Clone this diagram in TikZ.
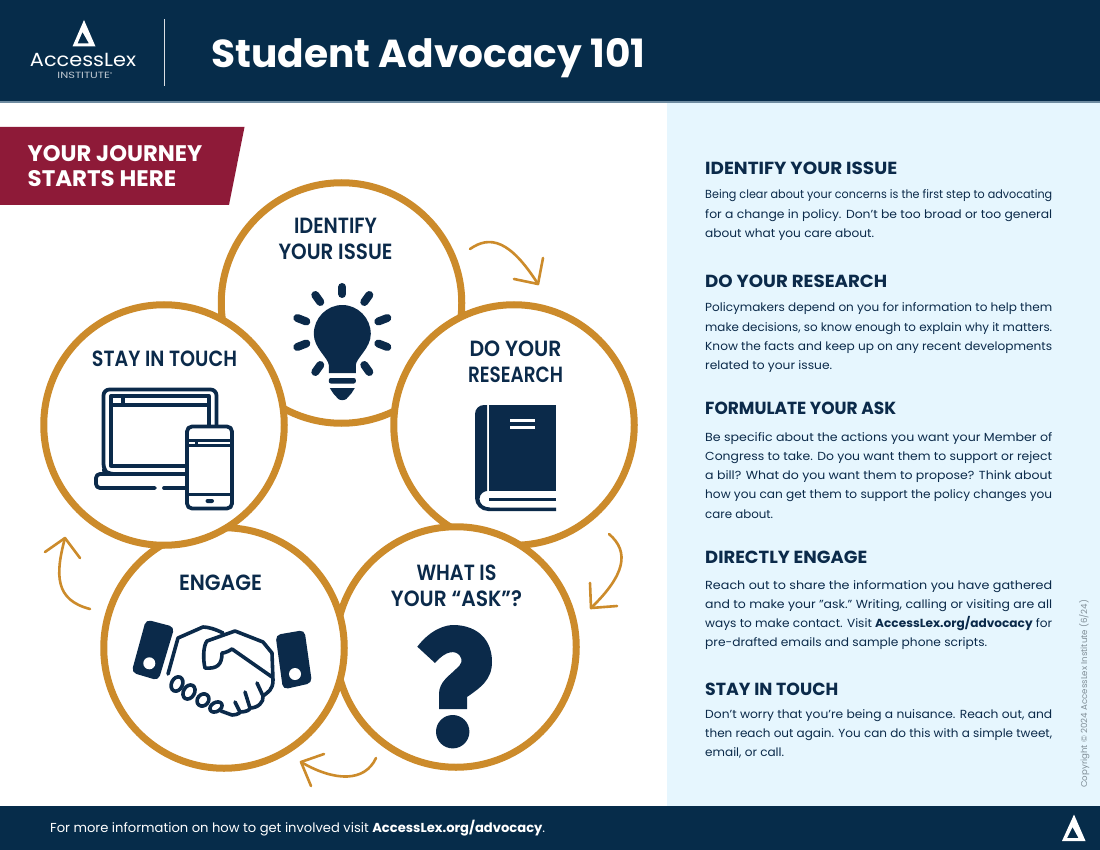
\documentclass[tikz,border=0pt]{standalone}
\usepackage{fontspec}
\usepackage{graphicx}
\setmainfont{Poppins}
\newfontfamily\labelfont[FakeStretch=0.86]{Poppins SemiBold}
\newfontfamily\logofont{Poppins}
\newcommand{\fitw}[2]{\resizebox{#1pt}{\height}{#2}}
\newcommand{\stacked}[1]{\begin{tabular}[t]{@{}l@{}}#1\end{tabular}}
\definecolor{navy}{HTML}{062C4A}
\definecolor{ink}{HTML}{0B2A4A}
\definecolor{gold}{HTML}{CC8B2B}
\definecolor{wine}{HTML}{8E1A38}
\definecolor{pale}{HTML}{E6F6FE}
\definecolor{rulecol}{HTML}{6E8BA0}
\definecolor{copy}{HTML}{808E97}
\tikzset{
 ring/.style={circle,draw=gold,fill=white,line width=7pt,minimum size=240.5pt,inner sep=0pt},
 circlelabel/.style={font=\labelfont\fontsize{22}{26}\selectfont,text=ink,align=center,inner sep=0pt},
 heading/.style={anchor=base west,inner sep=0pt,font=\fontsize{17.5}{20}\selectfont\bfseries,text=ink},
 para/.style={anchor=base west,inner sep=0pt,font=\fontsize{11.7}{19.25}\selectfont,text=ink},
 hand/.style={draw=gold,line width=2.6pt,line cap=round,line join=round},
 iconline/.style={draw=ink,line width=3.8pt,line join=round,line cap=round},
 shakeline/.style={draw=ink,line width=3.6pt,line join=round,line cap=round},
 ray/.style={draw=ink,line width=8pt,line cap=round},
}
\begin{document}
\begin{tikzpicture}[x=1pt,y=-1pt]
\useasboundingbox (0,0) rectangle (1100,850);
\fill[white] (0,0) rectangle (1100,850);
% panels
\fill[pale] (667,102) rectangle (1100,806);
\fill[navy] (0,0) rectangle (1100,102);
\fill[rulecol] (0,101.5) rectangle (1100,103);
\fill[navy] (0,806) rectangle (1100,850);
% header logo
\fill[white,even odd rule] (84,20) -- (95.5,46.5) -- (72.5,46.5) -- cycle (82.5,32) -- (77.5,43.5) -- (89,43.5) -- cycle;
\node[inner sep=0pt,text=white,font=\logofont\fontsize{19}{20}\selectfont] (logo) at (83,59.5) {\fitw{106}{AccessLex}};
\node[inner sep=0pt,text=white!75!navy,font=\logofont\fontsize{9}{10}\selectfont] (inst) at (85,75) {\fitw{55}{INSTITUTE\raisebox{2.5pt}{\fontsize{4}{4}\selectfont ®}}};
\draw[white!85!navy,line width=1pt] (164.5,19) -- (164.5,86);
\node[anchor=base west,inner sep=0pt,text=white,font=\fontsize{39}{44}\selectfont\bfseries] (title) at (211,68) {\fitw{434}{Student Advocacy 101}};
% banner
\fill[wine] (0,127) -- (244.5,127) -- (229,205) -- (0,205) -- cycle;
\node[anchor=base west,inner sep=0pt,text=white,font=\fontsize{22.5}{25}\selectfont\bfseries] (banner) at (27.5,161.5) {\stacked{\fitw{174.5}{YOUR JOURNEY}\\\fitw{148.5}{STARTS HERE}}};
% rings
\node[ring] (identify) at (341.5,303) {};
\node[ring] (research) at (514,425) {};
\node[ring] (ask) at (456,647) {};
\node[ring] (engage) at (224,648) {};
\node[ring] (stay) at (164,425) {};
% labels
\node[circlelabel] (l1) at (335.5,239) {\fitw{83}{IDENTIFY}\\\fitw{114}{YOUR ISSUE}};
\node[circlelabel] (l2) at (515.5,362) {\fitw{92}{DO YOUR}\\\fitw{95}{RESEARCH}};
\node[circlelabel] (l3) at (456.5,586) {\fitw{80}{WHAT IS}\\\fitw{131}{YOUR “ASK”?}};
\node[circlelabel] (l4) at (220.5,583) {\fitw{83}{ENGAGE}};
\node[circlelabel] (l5) at (164.5,359) {\fitw{145}{STAY IN TOUCH}};
% arrows
\coordinate (a1s) at (470,249); \coordinate (a1e) at (538,284);
\draw[hand] (a1s) .. controls (490,235) and (510,240) .. (a1e);
\draw[hand] (543,258) -- (a1e) -- (514,279);
\coordinate (a2s) at (609,534); \coordinate (a2e) at (591,608);
\draw[hand] (a2s) .. controls (630,552) and (625,575) .. (a2e);
\draw[hand] (590,583) -- (a2e) -- (617,606);
\coordinate (a3s) at (376,758); \coordinate (a3e) at (301,762);
\draw[hand] (a3s) .. controls (365,782) and (335,782) .. (a3e);
\draw[hand] (324,754) -- (a3e) -- (311,786);
\coordinate (a4s) at (90,609); \coordinate (a4e) at (65,538);
\draw[hand] (a4s) .. controls (55,600) and (55,575) .. (a4e);
\draw[hand] (45,552) -- (a4e) -- (80,558);
% bulb
\begin{scope}[shift={(342.3,340)}]
\fill[ink] (-13.5,33) -- (13.5,33) -- (13.5,25) .. controls (14,18) and (28.5,8) .. (28.5,-6) .. controls (28.5,-22) and (15.5,-35) .. (0,-35) .. controls (-15.5,-35) and (-28.5,-22) .. (-28.5,-6) .. controls (-28.5,8) and (-14,18) .. (-13.5,25) -- cycle;
\draw[ray] (0,-53) -- (0,-46);
\draw[ray] (-27,-45) -- (-22,-38);
\draw[ray] (27,-45) -- (22,-38);
\draw[ray] (-45,-22) -- (-36,-18.5);
\draw[ray] (45,-22) -- (36,-18.5);
\draw[ray] (-45,7) -- (-36,3.5);
\draw[ray] (45,7) -- (36,3.5);
\draw[ray] (-27,32) -- (-22,25);
\draw[ray] (27,32) -- (22,25);
\fill[ink,rounded corners=2pt] (-13.5,38) rectangle (13.5,43.5);
\fill[ink] (-12.5,48) -- (12.5,48) -- (9,53.5) -- (4,59) .. controls (2,60.5) and (-2,60.5) .. (-4,59) -- (-9,53.5) -- cycle;
\end{scope}
% book
\fill[ink] (489,405) rectangle (556,490.5);
\fill[ink] (487,405) -- (484,405) .. controls (479,405) and (475,409) .. (475,414) -- (475,498) .. controls (475,505) and (481,511) .. (488,511) -- (556,511) -- (556,507.5) -- (490,507.5) .. controls (484,507.5) and (479.5,504) .. (479.5,499) .. controls (479.5,494) and (484,491) .. (487,491) -- cycle;
\fill[ink] (489,497.5) rectangle (556,500.5);
\fill[white] (510,419) rectangle (535,422);
\fill[white] (510,426) rectangle (535,429);
% laptop + phone
\draw[iconline,rounded corners=6pt] (185,474) -- (108,474) -- (103.5,470) -- (103.5,389.5) -- (216.5,389.5) -- (216.5,425);
\draw[iconline,line width=3.3pt] (111,396) rectangle (209,466) (111,405) -- (209,405);
\draw[iconline,line width=3.3pt] (123,396) -- (123,405);
\draw[iconline,rounded corners=4pt] (185,474) -- (96,474) -- (96,488) -- (155,488);
\draw[iconline] (164,488) -- (185,488);
\draw[iconline,rounded corners=5pt,fill=white] (187,426.5) rectangle (232,508.5);
\draw[iconline,line cap=butt,line width=3pt] (187,440) -- (232,440) (187,445.5) -- (232,445.5) (187,494) -- (232,494);
\draw[iconline,line cap=butt,line width=3pt] (196,440) -- (196,445.5);
\fill[ink,rounded corners=2pt] (205.5,499) rectangle (214,503);
% handshake
\fill[ink,rounded corners=5pt] (146,619.5) -- (174.5,627) -- (158.5,680.5) -- (131.5,672.5) -- cycle;
\fill[white] (149.3,663.3) circle (6);
\fill[ink,rounded corners=5pt] (275.5,635) -- (304.5,630) -- (312,683) -- (283,689.5) -- cycle;
\fill[white] (295,674) circle (6);
\draw[shakeline] (223,633) .. controls (215,629) and (208,627) .. (203,627) -- (178,638) -- (168,674);
\draw[shakeline,rotate around={-25:(177,684)}] (177,684) ellipse (5.5 and 7.5);
\draw[shakeline,rotate around={-30:(189,692)}] (189,692) ellipse (5.5 and 7.5);
\draw[shakeline,rotate around={-40:(203,700)}] (203,700) ellipse (5.5 and 6.5);
\draw[shakeline,rotate around={-60:(216,707)}] (216,707) ellipse (4.5 and 6.5);
\draw[shakeline] (221,711) -- (232,715) .. controls (238,715) and (241,712) .. (240,712) -- (235,702);
\draw[shakeline] (240,712) .. controls (246,712) and (250,710) .. (250,708) -- (245,692);
\draw[shakeline] (250,708) .. controls (258,708) and (264,702) .. (263,696) -- (257,683);
\draw[shakeline] (263,696) .. controls (268,692) and (273,690) .. (273,680) -- (272,653) -- (263,642) -- (235,631) -- (207,641) .. controls (203,646) and (203,660) .. (205,668) .. controls (217,669) and (222,665) .. (222,653) .. controls (225,653) and (229,651) .. (232,649) -- (272,677);
% question mark
\fill[ink] (417.3,646.7) .. controls (430,630) and (445,624.5) .. (455,625) .. controls (478,626) and (492,640) .. (492,662) .. controls (492,680) and (480,688) .. (467,697) -- (467,709) -- (439,709) -- (439,694) .. controls (439,682) and (449,676) .. (456,669) .. controls (462,664) and (463,660) .. (460,656) .. controls (456,650) and (446,650) .. (435,663) -- cycle;
\fill[ink] (452.7,731.7) circle (16.7);
% text panel
\node[heading] (h1) at (705,175) {\fitw{192}{IDENTIFY YOUR ISSUE}};
\node[para] (p1) at (705,199) {\stacked{\fitw{347}{Being clear about your concerns is the first step to advocating}\\\fitw{347}{for a change in policy. Don’t be too broad or too general}\\\fitw{169}{about what you care about.}}};
\node[heading] (h2) at (705,287.7) {\fitw{182}{DO YOUR RESEARCH}};
\node[para] (p2) at (705,312) {\stacked{\fitw{347}{Policymakers depend on you for information to help them}\\\fitw{347}{make decisions, so know enough to explain why it matters.}\\\fitw{347}{Know the facts and keep up on any recent developments}\\\fitw{127}{related to your issue.}}};
\node[heading] (h3) at (705,414.5) {\fitw{191}{FORMULATE YOUR ASK}};
\node[para] (p3) at (705,441) {\stacked{\fitw{347}{Be specific about the actions you want your Member of}\\\fitw{347}{Congress to take. Do you want them to support or reject}\\\fitw{347}{a bill? What do you want them to propose? Think about}\\\fitw{347}{how you can get them to support the policy changes you}\\\fitw{68}{care about.}}};
\node[heading] (h4) at (705,563.5) {\fitw{162}{DIRECTLY ENGAGE}};
\node[para] (p4) at (705,589) {\stacked{\fitw{347}{Reach out to share the information you have gathered}\\\fitw{347}{and to make your "ask." Writing, calling or visiting are all}\\\fitw{347}{ways to make contact. Visit \textbf{AccessLex.org/advocacy} for}\\\fitw{282}{pre-drafted emails and sample phone scripts.}}};
\node[heading] (h5) at (705,695.5) {\fitw{133}{STAY IN TOUCH}};
\node[para] (p5) at (705,718) {\stacked{\fitw{347}{Don’t worry that you’re being a nuisance. Reach out, and}\\\fitw{347}{then reach out again. You can do this with a simple tweet,}\\\fitw{79}{email, or call.}}};
\node[anchor=base west,rotate=90,inner sep=0pt,text=copy,font=\fontsize{8.5}{10}\selectfont] (copyr) at (1087,788) {\fitw{188}{Copyright © 2024 AccessLex Institute (6/24)}};
% footer
\node[anchor=base west,inner sep=0pt,text=white,font=\fontsize{13}{15}\selectfont] (foot) at (50,832) {\fitw{495}{For more information on how to get involved visit \textbf{AccessLex.org/advocacy}.}};
\fill[white,even odd rule] (1074,814.5) -- (1085.5,841) -- (1062,841) -- cycle (1072.5,827) -- (1067,838) -- (1078.5,838) -- cycle;
\end{tikzpicture}
\end{document}
